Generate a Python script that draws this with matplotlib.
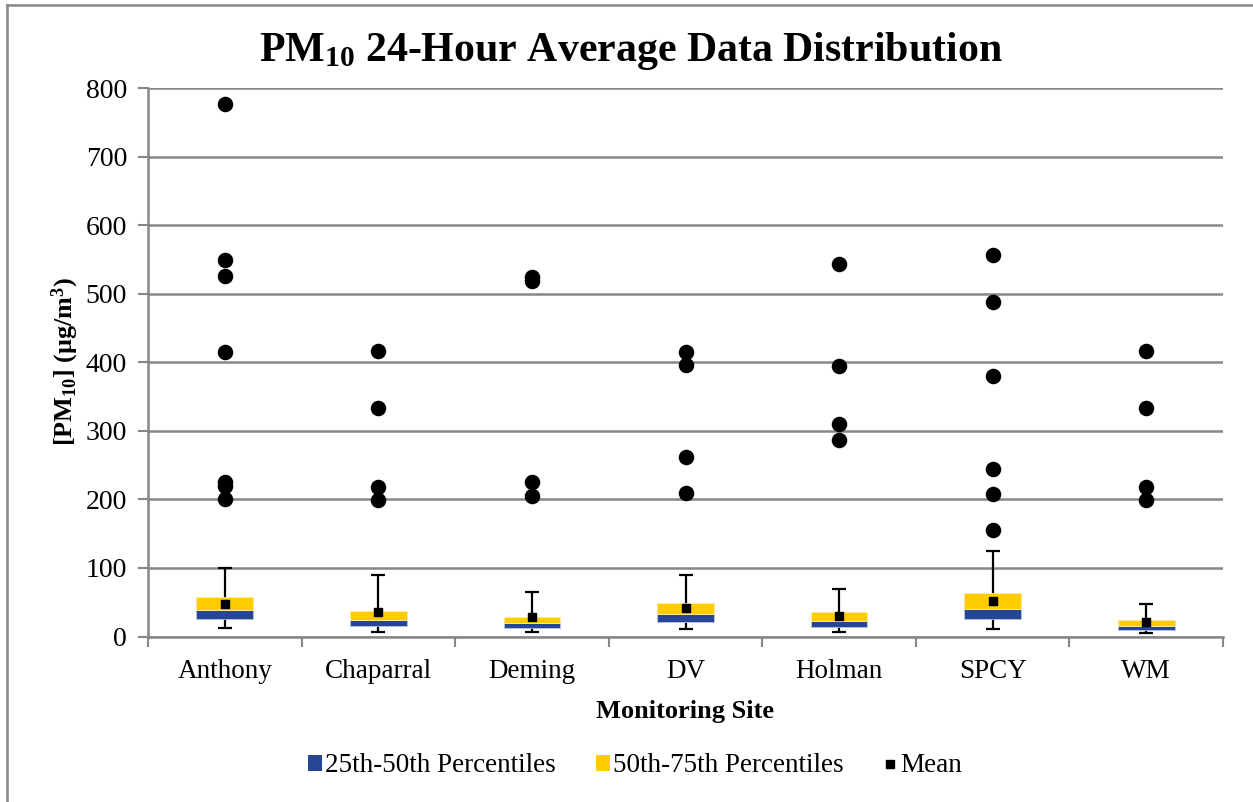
import matplotlib
matplotlib.use("Agg")
import matplotlib.pyplot as plt
from matplotlib.lines import Line2D
from matplotlib.patches import Patch
import numpy as np

plt.rcParams['font.family'] = ['Liberation Serif', 'DejaVu Serif']
plt.rcParams['mathtext.fontset'] = 'custom'
plt.rcParams['mathtext.rm'] = 'Liberation Serif'
plt.rcParams['mathtext.it'] = 'Liberation Serif:italic'
plt.rcParams['mathtext.bf'] = 'Liberation Serif:bold'

sites = ["Anthony", "Chaparral", "Deming", "DV", "Holman", "SPCY", "WM"]
whisker_low = [12, 6, 6, 11, 6, 11, 5]
q25 = [25, 15, 12.5, 21.5, 14, 25, 10]
median = [38, 24, 19, 33, 23, 40, 15]
q75 = [57, 37, 28, 48.5, 36, 63, 24]
whisker_high = [100, 90, 65.5, 90, 69.5, 124, 48]
means = [48, 36, 29, 41, 30, 52, 21.5]
outliers = [
    [777, 549, 526, 415, 225, 219, 200],
    [416, 333, 218, 199],
    [524, 519, 225, 205],
    [415, 396, 262, 209],
    [543, 395, 310, 287],
    [556, 488, 380, 245, 208, 156],
    [416, 333, 218, 199],
]
yticks = [0, 100, 200, 300, 400, 500, 600, 700, 800]

BLUE = '#264592'
YELLOW = '#FFCC00'
GRID = '#878787'

fig = plt.figure(figsize=(12.53, 8.02), dpi=100)
ax = fig.add_axes([148/1253, 1-636.5/802, (1223-148)/1253, (636.5-88)/802])

x = np.arange(len(sites))
q25a = np.array(q25); meda = np.array(median); q75a = np.array(q75)
lo = np.array(whisker_low); hi = np.array(whisker_high)

# whiskers
ax.errorbar(x, (lo+hi)/2, yerr=(hi-lo)/2, fmt='none', ecolor='black',
            elinewidth=1.6, capsize=5, capthick=1.6, zorder=2)
bw = 0.37
ax.bar(x, meda-q25a, bottom=q25a, width=bw, color=BLUE, edgecolor='#b8c4e0', linewidth=0.6, zorder=3)
ax.bar(x, q75a-meda, bottom=meda, width=bw, color=YELLOW, edgecolor='#ffe9a0', linewidth=0.6, zorder=3)
ax.scatter(x, means, marker='s', s=30, color='black', zorder=4)
for i, outs in enumerate(outliers):
    ax.scatter([x[i]]*len(outs), outs, s=125, color='black', zorder=4, linewidths=0)

ax.set_xlim(-0.5, len(sites)-0.5)
ax.set_ylim(0, 800)
ax.set_yticks(yticks)
ax.set_yticklabels([str(v) for v in yticks], fontsize=20)
ax.set_xticks(np.arange(-0.5, len(sites)), labels=[''] * (len(sites)+1))
ax.set_xticks(x, minor=True)
ax.set_xticklabels(sites, minor=True, fontsize=19.5)
ax.tick_params(axis='x', which='major', length=7, width=1.5, color=GRID, direction='out')
ax.tick_params(axis='x', which='minor', length=0, pad=16)
ax.tick_params(axis='y', length=7, width=1.5, color=GRID, direction='out', pad=8)
ax.yaxis.grid(True, color=GRID, linewidth=1.8, zorder=0)
ax.set_axisbelow(True)
for s in ['top', 'right']:
    ax.spines[s].set_visible(False)
for s in ['left', 'bottom']:
    ax.spines[s].set_color(GRID)
    ax.spines[s].set_linewidth(1.8)

ax.set_xlabel('Monitoring Site', fontsize=19, fontweight='bold', labelpad=12)
ax.set_ylabel(r'[PM$_{\mathbf{10}}$] (µg/m$^{\mathbf{3}}$)', fontsize=18.8, fontweight='bold')
ax.yaxis.label.set_verticalalignment('center')
ax.yaxis.set_label_coords(65/1253, 1-361/802, transform=fig.transFigure)

fig.text(631/1253, 1-51/802, r'PM$_{\mathbf{10}}$ 24-Hour Average Data Distribution',
         ha='center', va='center', fontsize=30.2, fontweight='bold')

handles = [Patch(facecolor=BLUE, edgecolor='none'),
           Patch(facecolor=YELLOW, edgecolor='none'),
           Line2D([], [], marker='s', color='black', linestyle='none', markersize=6)]
fig.legend(handles, ['25th-50th Percentiles', '50th-75th Percentiles', 'Mean'],
           loc='center', bbox_to_anchor=(635/1253, 1-766/802), ncol=3, frameon=False,
           fontsize=19.5, handlelength=0.52, handleheight=0.55, handletextpad=0.12, columnspacing=1.45)

# outer chart border
fig.add_artist(Line2D([7/1253, 7/1253], [0, 1-5/802], color=GRID, linewidth=1.8, transform=fig.transFigure))
fig.add_artist(Line2D([7/1253, 1], [1-5/802, 1-5/802], color=GRID, linewidth=1.8, transform=fig.transFigure))

fig.savefig('out.png', dpi=100)
